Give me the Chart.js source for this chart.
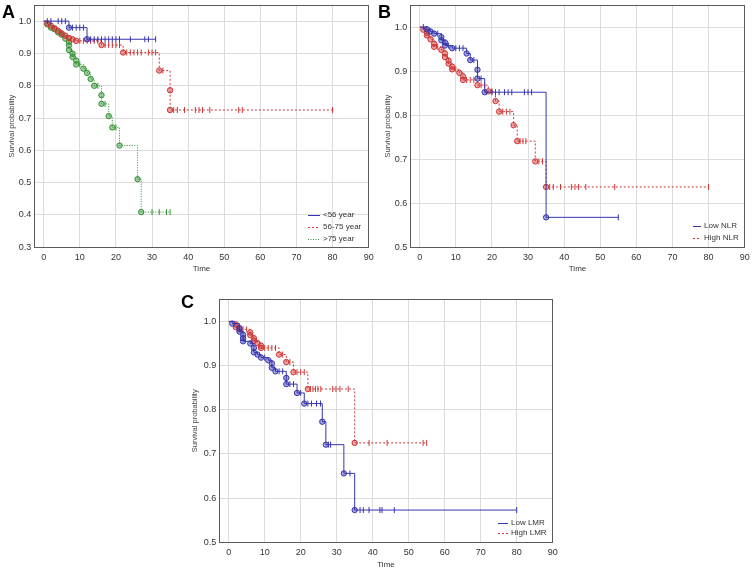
<!DOCTYPE html>
<html>
<head>
<meta charset="utf-8">
<script src="https://cdn.jsdelivr.net/npm/chart.js@4.4.1/dist/chart.umd.min.js"></script>
<style>
  html, body { margin:0; padding:0; background:#fff; }
  body { width:753px; height:574px; position:relative; overflow:hidden; font-family:"Liberation Sans", Arial, sans-serif; }
  .panel { position:absolute; }
  .tag { position:absolute; font-weight:bold; font-size:18px; line-height:18px; color:#000; }
</style>
</head>
<body>
<div class="panel" style="left:0;top:0;width:376px;height:290px"><canvas id="chartA"></canvas></div>
<div class="panel" style="left:376px;top:0;width:377px;height:290px"><canvas id="chartB"></canvas></div>
<div class="panel" style="left:180px;top:290px;width:400px;height:284px"><canvas id="chartC"></canvas></div>
<div class="tag" style="left:2px;top:3px">A</div>
<div class="tag" style="left:378px;top:3px">B</div>
<div class="tag" style="left:181px;top:293px">C</div>

<script>
/* ---------- data ---------- */
const xTicks  = [0,10,20,30,40,50,60,70,80,90];
const yTicksA = [0.3,0.4,0.5,0.6,0.7,0.8,0.9,1.0];
const yTicksBC = [0.5,0.6,0.7,0.8,0.9,1.0];

// A: age groups
const ageLowT = [7, 12];
const ageLowS = [0.980, 0.944];
const ageLowCens = [1,2,4,5,6,8,9,10,11,13,14,15,16,17,18,19,20,21,24,28,29,31];

const ageMidT = [1,2,3,4,5,6,7,8,9,16,22,32,35,35];
const ageMidS = [0.993,0.986,0.978,0.970,0.962,0.955,0.948,0.944,0.939,0.926,0.903,0.847,0.786,0.725];
const ageMidCens = [5,10,11,12,13,14,15,17,18,19,20,21,23,24,25,26,27,29,30,31,33,36,37,39,42,43,44,46,54,55,80];

const ageOldT = [1,2,3,4,5,6,7,7,7,8,8,9,9,11,12,13,14,16,16,18,19,21,26,27];
const ageOldS = [0.990,0.980,0.975,0.965,0.958,0.946,0.936,0.925,0.911,0.899,0.889,0.878,0.866,0.853,0.840,0.821,0.800,0.771,0.744,0.706,0.671,0.615,0.511,0.409];
const ageOldCens = [10,15,17,20,30,32,34,35];

// B: NLR
const nlrLowT = [2,3,4,6,6,7,7,9,13,14,16,16,18,35];
const nlrLowS = [0.995,0.990,0.985,0.977,0.970,0.965,0.958,0.952,0.940,0.925,0.903,0.883,0.852,0.568];
const nlrLowCens = [1,5,8,10,11,12,15,17,20,21,22,23.5,24.5,25.5,29,30,31,55];

const nlrHighT = [1,2,2,3,4,4,6,7,7,8,8,9,9,11,12,12,16,19,21,22,26,27,32,35];
const nlrHighS = [0.994,0.987,0.981,0.972,0.962,0.955,0.948,0.940,0.932,0.924,0.917,0.910,0.904,0.896,0.888,0.880,0.868,0.854,0.832,0.808,0.777,0.741,0.695,0.637];
const nlrHighCens = [5,10,13,14,15,17,18,20,23,24,25,27.8,28.6,29.4,33,34,36,37,39,42,43,44,46,54,80];

// C: LMR
const lmrLowT = [1,3,3,4,4,4,6,7,7,8,9,11,12,12,13,16,16,19,21,26,27,32,35];
const lmrLowS = [0.995,0.985,0.977,0.970,0.962,0.955,0.950,0.940,0.930,0.925,0.918,0.912,0.905,0.895,0.887,0.872,0.858,0.838,0.814,0.773,0.721,0.656,0.573];
const lmrLowCens = [10,14,15,17,18,20,22,23,24.4,25.5,27.7,28.3,33.7,36.5,37.4,39,42,42.6,46,80];

const lmrHighT = [2,2,3,6,6,7,7,8,9,9,14,16,18,22,35];
const lmrHighS = [0.993,0.987,0.982,0.975,0.969,0.962,0.956,0.951,0.945,0.940,0.925,0.908,0.885,0.847,0.725];
const lmrHighCens = [4,5,10,11,12,13,15,17,19,20,21,22.7,23.4,24.1,24.8,25.6,28.9,29.8,30.9,33.2,39,44,54,55];

/* ---------- helpers ---------- */
const BLUE = '#3636ad', RED = '#cf3434', GREEN = '#319031';
function rgba(hex, a){ const n = parseInt(hex.slice(1),16); return `rgba(${n>>16},${(n>>8)&255},${n&255},${a})`; }

function survAt(times, surv, t){ let s = 1; times.forEach((tt,i)=>{ if(tt<=t) s = surv[i]; }); return s; }
function stepPoints(times, surv, cens){
  const pts = [{x:0,y:1}];
  times.forEach((t,i)=>pts.push({x:t,y:surv[i]}));
  const end = Math.max(...cens, ...times);
  if (end > times[times.length-1]) pts.push({x:end, y:surv[surv.length-1]});
  return pts;
}
function series(label, times, surv, cens, color, dash){
  return [
    { type:'line', label, data:stepPoints(times,surv,cens), stepped:true, borderColor:color, borderWidth:1,
      borderDash:dash, pointRadius:0, fill:false, kmLegend:true },
    { type:'scatter', label:'', data:times.map((t,i)=>({x:t,y:surv[i]})), pointStyle:'circle', pointRadius:2.7,
      borderColor:color, backgroundColor:rgba(color,0.45), borderWidth:1 },
    { type:'scatter', label:'', data:cens.map(t=>({x:t,y:survAt(times,surv,t)})), pointStyle:'line', rotation:90,
      pointRadius:3, borderColor:color, borderWidth:1 }
  ];
}

/* ---------- plugins: plot frame + inside legend ---------- */
const framePlugin = {
  id:'frame',
  afterDraw(chart){
    const {ctx, chartArea:a} = chart;
    ctx.save(); ctx.strokeStyle = '#5a5a5a'; ctx.lineWidth = 1;
    ctx.strokeRect(Math.round(a.left)+0.5, Math.round(a.top)+0.5, Math.round(a.right-a.left), Math.round(a.bottom-a.top));
    ctx.restore();
  }
};
const legendPlugin = {
  id:'kmLeg',
  afterDraw(chart, args, o){
    const ctx = chart.ctx;
    ctx.save();
    ctx.font = '8px "Liberation Sans", Arial, sans-serif'; ctx.fillStyle = '#333'; ctx.textBaseline = 'middle';
    let y = o.top;
    chart.data.datasets.filter(d=>d.kmLegend).forEach(d=>{
      ctx.strokeStyle = d.borderColor; ctx.lineWidth = 1; ctx.setLineDash(d.borderDash||[]);
      ctx.beginPath(); ctx.moveTo(o.left, Math.round(y)+0.5); ctx.lineTo(o.left+o.lineLen, Math.round(y)+0.5); ctx.stroke();
      ctx.setLineDash([]);
      ctx.fillText(d.label, o.left+o.lineLen+3, y);
      y += o.rowH;
    });
    ctx.restore();
  }
};

function kmOptions(o){
  return {
    responsive:true, maintainAspectRatio:false, animation:false,
    layout:{padding:{left:0, top:o.top, right:o.right, bottom:0}},
    plugins:{ legend:{display:false}, tooltip:{enabled:false}, kmLeg:o.legend },
    scales:{
      x:{ type:'linear', min:-2.6, max:90,
        afterBuildTicks: s => { s.ticks = xTicks.map(v=>({value:v})); },
        afterFit: s => { s.height = o.xH; s.paddingLeft = 0; s.paddingRight = 0; },
        grid:{color:'#dcdcdc', drawTicks:false}, border:{display:false},
        ticks:{color:'#333', font:{size:9}, padding:5},
        title:{display:true, text:'Time', color:'#333', font:{size:8}, padding:{top:0, bottom:o.xTitlePad}} },
      y:{ type:'linear', min:o.yMin, max:1.05,
        afterBuildTicks: s => { s.ticks = o.yTicks.map(v=>({value:v})); },
        afterFit: s => { s.width = o.yW; s.paddingTop = 0; s.paddingBottom = 0; },
        grid:{color:'#dcdcdc', drawTicks:false}, border:{display:false},
        ticks:{color:'#333', font:{size:9}, padding:3, callback:v=>Number(v).toFixed(1)},
        title:{display:true, text:'Survival probability', color:'#444', font:{size:7.5}, padding:{top:o.yTitlePad, bottom:0}} }
    }
  };
}

new Chart(document.getElementById('chartA'), {
  data:{ datasets:[
    ...series('<56 year', ageLowT, ageLowS, ageLowCens, BLUE, []),
    ...series('56-75 year', ageMidT, ageMidS, ageMidCens, RED, [2,2]),
    ...series('>75 year', ageOldT, ageOldS, ageOldCens, GREEN, [1,1.5])
  ]},
  options:kmOptions({top:4.7, right:7.3, xH:42.7, yW:34.3, yMin:0.3, yTicks:yTicksA, xTitlePad:16, yTitlePad:7,
    legend:{left:308, top:214.5, rowH:12, lineLen:12}}),
  plugins:[framePlugin, legendPlugin]
});

new Chart(document.getElementById('chartB'), {
  data:{ datasets:[
    ...series('Low NLR', nlrLowT, nlrLowS, nlrLowCens, BLUE, []),
    ...series('High NLR', nlrHighT, nlrHighS, nlrHighCens, RED, [2,2])
  ]},
  options:kmOptions({top:4.7, right:8.3, xH:42.7, yW:34.3, yMin:0.5, yTicks:yTicksBC, xTitlePad:16, yTitlePad:7,
    legend:{left:317, top:226, rowH:12, lineLen:8}}),
  plugins:[framePlugin, legendPlugin]
});

new Chart(document.getElementById('chartC'), {
  data:{ datasets:[
    ...series('Low LMR', lmrLowT, lmrLowS, lmrLowCens, BLUE, []),
    ...series('High LMR', lmrHighT, lmrHighS, lmrHighCens, RED, [2,2])
  ]},
  options:kmOptions({top:9.3, right:27.3, xH:31.7, yW:39.3, yMin:0.5, yTicks:yTicksBC, xTitlePad:4, yTitlePad:10.5,
    legend:{left:318, top:232.5, rowH:10, lineLen:10}}),
  plugins:[framePlugin, legendPlugin]
});
</script>
</body>
</html>
